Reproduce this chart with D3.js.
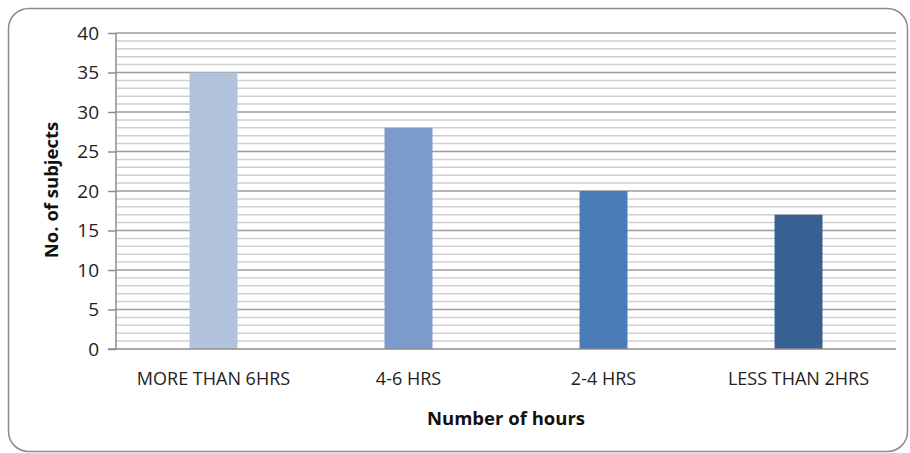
<!DOCTYPE html>
<html>
<head>
<meta charset="utf-8">
<script src="https://cdn.jsdelivr.net/npm/d3@7"></script>
<style>
  body { margin: 0; background: #fff; }
  text { font-family: "Open Sans", "Liberation Sans", sans-serif; fill: #222; }
</style>
</head>
<body>
<div class="chart"></div>
<script>
// chart data
let categories = ['MORE THAN 6HRS', '4-6 HRS', '2-4 HRS', 'LESS THAN 2HRS']
let subjects = [35, 28, 20, 17]
let barColors = ['#b3c3de', '#7c9bcb', '#4a7bb7', '#386193']
let yTicks = [0, 5, 10, 15, 20, 25, 30, 35, 40]
let minorTicks = d3.range(0, 41, 1)

let svgWidth = 910
let svgHeight = 453

let margin = { left: 116, right: 14, top: 33, bottom: 104 }
let width = svgWidth - margin.left - margin.right
let height = svgHeight - margin.top - margin.bottom

let root = d3.select('.chart')
    .append('svg')
    .attr('width', svgWidth)
    .attr('height', svgHeight)

// rounded frame
root.append('rect')
    .attr('x', 8.5).attr('y', 8.5)
    .attr('width', 899).attr('height', 443)
    .attr('rx', 20).attr('ry', 20)
    .attr('fill', '#fff')
    .attr('stroke', '#8a8a8a')
    .attr('stroke-width', 1.5)

let svg = root.append('g')
    .attr('transform', `translate(${margin.left},${margin.top})`)

let xScale = d3.scaleBand()
    .domain(categories)
    .range([0, width])
    .paddingInner(0.754)
    .paddingOuter(0.377)

let yScale = d3.scaleLinear()
    .domain([0, 40])
    .range([height, 0])

// minor grid
svg.selectAll('.minor')
    .data(minorTicks.filter(d => d % 5 != 0))
    .enter().append('line')
    .attr('x1', 0).attr('x2', width)
    .attr('y1', d => yScale(d)).attr('y2', d => yScale(d))
    .attr('stroke', '#cfcfcf')
    .attr('stroke-width', 1.5)

// major grid
svg.selectAll('.major')
    .data(yTicks.filter(d => d > 0))
    .enter().append('line')
    .attr('x1', 0).attr('x2', width)
    .attr('y1', d => yScale(d)).attr('y2', d => yScale(d))
    .attr('stroke', '#9c9c9c')
    .attr('stroke-width', 1.5)

// bars
svg.selectAll('.bar')
    .data(subjects)
    .enter().append('rect')
    .attr('x', (d, i) => xScale(categories[i]))
    .attr('width', xScale.bandwidth())
    .attr('y', d => yScale(d))
    .attr('height', d => height - yScale(d))
    .attr('fill', (d, i) => barColors[i])

// y axis
let yAxis = d3.axisLeft(yScale)
    .tickValues(yTicks)
    .tickSize(8)
    .tickPadding(9)

let yg = svg.append('g').call(yAxis)
yg.select('.domain').attr('stroke', '#8c8c8c').attr('stroke-width', 1.5).attr('d', `M0,0V${height}`)
yg.selectAll('.tick line').attr('stroke', '#8c8c8c').attr('stroke-width', 1.5)
yg.selectAll('.tick text')
    .style('font-size', '19px')
    .style('fill', '#222')

// x axis
let xAxis = d3.axisBottom(xScale)
    .tickSize(0)
    .tickPadding(23)

let xg = svg.append('g')
    .attr('transform', `translate(0,${height})`)
    .call(xAxis)
xg.select('.domain').attr('stroke', '#8c8c8c').attr('stroke-width', 1.5).attr('d', `M-8,0H${width}`)
xg.selectAll('.tick text')
    .style('font-size', '18px')
    .style('fill', '#222')

// axis titles
svg.append('text')
    .attr('transform', 'rotate(-90)')
    .attr('x', -height / 2 + 1)
    .attr('y', -58)
    .style('text-anchor', 'middle')
    .style('font-size', '18.5px')
    .style('font-weight', 'bold')
    .style('fill', '#111')
    .text('No. of subjects')

svg.append('text')
    .attr('x', width / 2)
    .attr('y', height + 76)
    .style('text-anchor', 'middle')
    .style('font-size', '18.5px')
    .style('font-weight', 'bold')
    .style('fill', '#111')
    .text('Number of hours')
</script>
</body>
</html>
